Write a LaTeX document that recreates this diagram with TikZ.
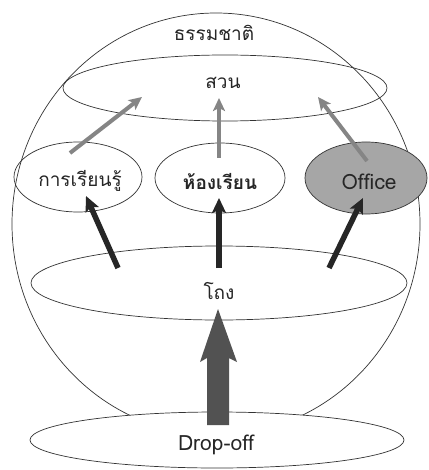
\documentclass[tikz,border=0pt]{standalone}
\usepackage{fontspec}
\newfontfamily\thaifont[Script=Thai]{Loma}
\setmainfont[Script=Thai]{Loma}
\usetikzlibrary{arrows.meta,shapes.geometric}
\begin{document}
\begin{tikzpicture}[x=1pt,y=-1pt,
  ring/.style={ellipse,draw=black!80,line width=0.7pt,inner sep=0pt},
  lbl/.style={font=\fontsize{19}{19}\selectfont\thaifont,text=black!85},
  latin/.style={font=\fontsize{21}{21}\selectfont\thaifont,text=black!85},
  grayarrow/.style={line width=4pt,draw=black!48,-{Stealth[length=13pt,width=12pt,inset=3pt]}},
  darkarrow/.style={line width=5.5pt,draw=black!85,-{Stealth[length=15pt,width=14pt,inset=3pt]}},
  bigarrow/.style={fill=black!68,draw=none}]
\useasboundingbox (0,0) rectangle (428,470);
\fill[white] (0,0) rectangle (428,470);
% outer sphere
\node[ring,minimum width=408pt,minimum height=422pt] (nature) at (216,224) {};
\node[lbl] (naturelbl) at (214,33) {ธรรมชาติ};
% garden
\node[ring,minimum width=324pt,minimum height=66pt] (garden) at (225,88) {};
\node[lbl] (gardenlbl) at (223,83) {สวน};
% three rooms
\node[ring,minimum width=128pt,minimum height=70pt] (learn) at (78,177) {};
\node[lbl] at (80,181) {การเรียนรู้};
\node[ring,minimum width=130pt,minimum height=70pt] (class) at (220,178) {};
\node[lbl] at (220,181) {\textbf{ห้องเรียน}};
\node[ring,fill=black!35,minimum width=122pt,minimum height=72pt] (office) at (366,178) {};
\node[latin] at (369,182) {Office};
% hall
\node[ring,minimum width=376pt,minimum height=74pt] (hall) at (219,283) {};
\node[lbl] at (219,291) {โถง};
% drop-off
\node[ring,fill=white,minimum width=374pt,minimum height=56pt] (drop) at (217,440) {};
\node[latin] at (216,445) {Drop-off};
% arrow end points
\coordinate (g1a) at (70,153);  \coordinate (g1b) at (142,97);
\coordinate (g2a) at (219,158); \coordinate (g2b) at (219,98);
\coordinate (g3a) at (367,161); \coordinate (g3b) at (318,97);
\coordinate (d1a) at (118,268); \coordinate (d1b) at (86,196);
\coordinate (d2a) at (219,268); \coordinate (d2b) at (219,198);
\coordinate (d3a) at (329,268); \coordinate (d3b) at (363,198);
\draw[grayarrow] (g1a) -- (g1b);
\draw[grayarrow] (g2a) -- (g2b);
\draw[grayarrow] (g3a) -- (g3b);
\draw[darkarrow] (d1a) -- (d1b);
\draw[darkarrow] (d2a) -- (d2b);
\draw[darkarrow] (d3a) -- (d3b);
% big arrow from drop-off to hall
\coordinate (btip) at (218,309);
\fill[bigarrow] (207,425) -- (207,358) -- (200,362) -- (btip) -- (237,362) -- (229,358) -- (229,425) -- cycle;
\end{tikzpicture}
\end{document}
